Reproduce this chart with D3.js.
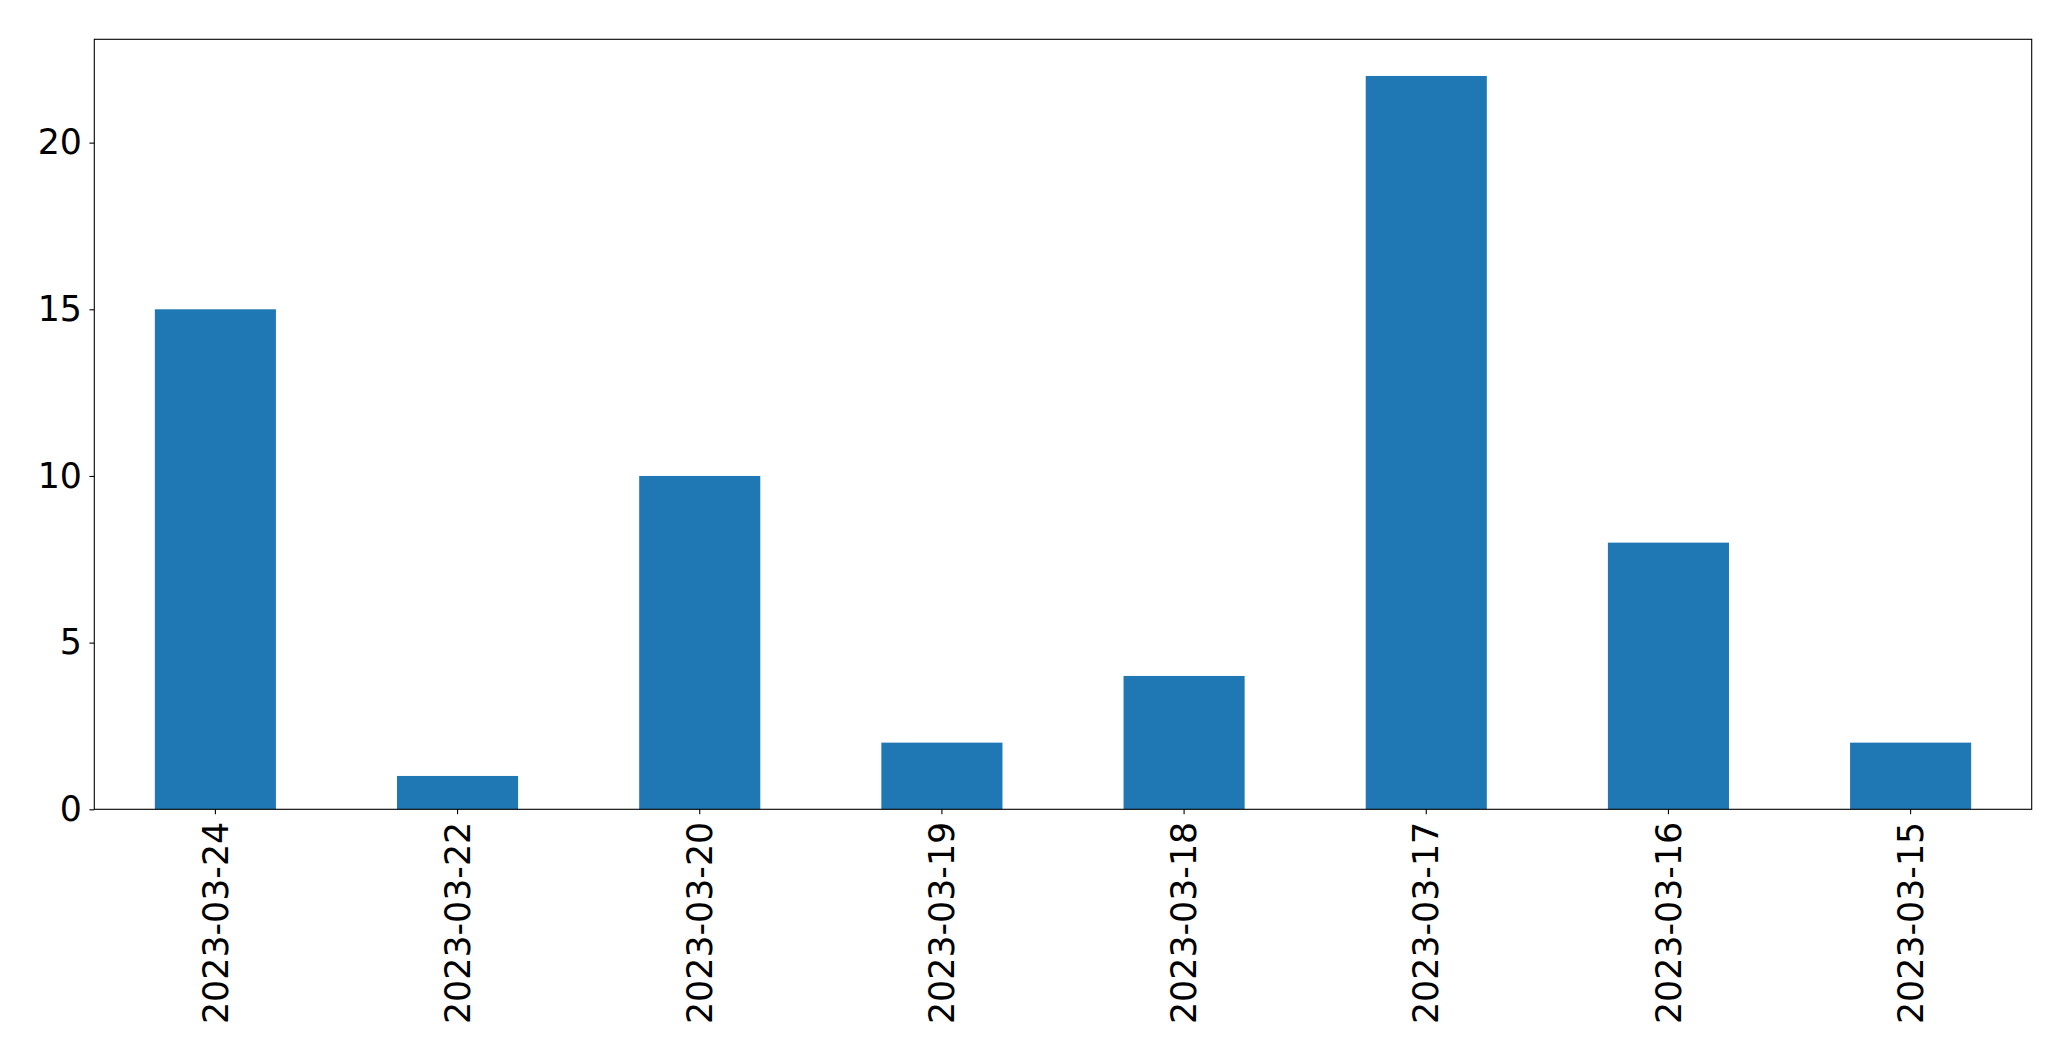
<!DOCTYPE html>
<html>
<head>
<meta charset="utf-8">
<script src="https://cdn.jsdelivr.net/npm/d3@7"></script>
<style>
  html, body { margin: 0; padding: 0; background: #fff; }
  svg { display: block; }
  text { font-family: "DejaVu Sans", sans-serif; fill: #000; }
</style>
</head>
<body>
<script>
const categories = ["2023-03-24", "2023-03-22", "2023-03-20", "2023-03-19", "2023-03-18", "2023-03-17", "2023-03-16", "2023-03-15"];
const values = [15, 1, 10, 2, 4, 22, 8, 2];
const yTicks = [0, 5, 10, 15, 20];

(function () {
const W = 2071, H = 1061;
const mLeft = 94.3, mRight = 2031.7, mTop = 39.3, mBottom = 809.3;
const fontSize = 34.8;
const tickLen = 4.86;

const svg = d3.select("body").append("svg").attr("width", W).attr("height", H);

const x = d3.scaleBand().domain(categories).range([mLeft, mRight]).paddingInner(0.5).paddingOuter(0.25);
const yMax = d3.max(values) * 1.05;
const y = d3.scaleLinear().domain([0, yMax]).range([mBottom, mTop]);

svg.append("g").selectAll("rect").data(values).join("rect")
  .attr("x", (d, i) => x(categories[i]))
  .attr("width", x.bandwidth())
  .attr("y", d => y(d))
  .attr("height", d => y(0) - y(d))
  .attr("fill", "#1f77b4");

// frame
svg.append("rect")
  .attr("x", mLeft).attr("y", mTop)
  .attr("width", mRight - mLeft).attr("height", mBottom - mTop)
  .attr("fill", "none").attr("stroke", "#000").attr("stroke-width", 1.1);

// y axis
const yAxis = d3.axisLeft(y).tickValues(yTicks).tickSize(tickLen).tickPadding(7.5).tickFormat(d3.format("d"));
const gy = svg.append("g").attr("transform", `translate(${mLeft},0)`).call(yAxis);
gy.select(".domain").remove();
gy.selectAll("line").attr("stroke", "#000").attr("stroke-width", 1.1);
gy.selectAll("text").attr("font-size", fontSize).attr("font-family", "DejaVu Sans, sans-serif").attr("fill", "#000");

// x axis
const xAxis = d3.axisBottom(x).tickSize(tickLen).tickPadding(0);
const gx = svg.append("g").attr("transform", `translate(0,${mBottom})`).call(xAxis);
gx.select(".domain").remove();
gx.selectAll("line").attr("stroke", "#000").attr("stroke-width", 1.1);
gx.selectAll("text")
  .attr("font-size", fontSize)
  .attr("font-family", "DejaVu Sans, sans-serif")
  .attr("fill", "#000")
  .attr("text-anchor", "end")
  .attr("dy", "0.35em")
  .attr("transform", "translate(0,12.5) rotate(-90)")
  .attr("x", 0).attr("y", 0);
})();
</script>
</body>
</html>
